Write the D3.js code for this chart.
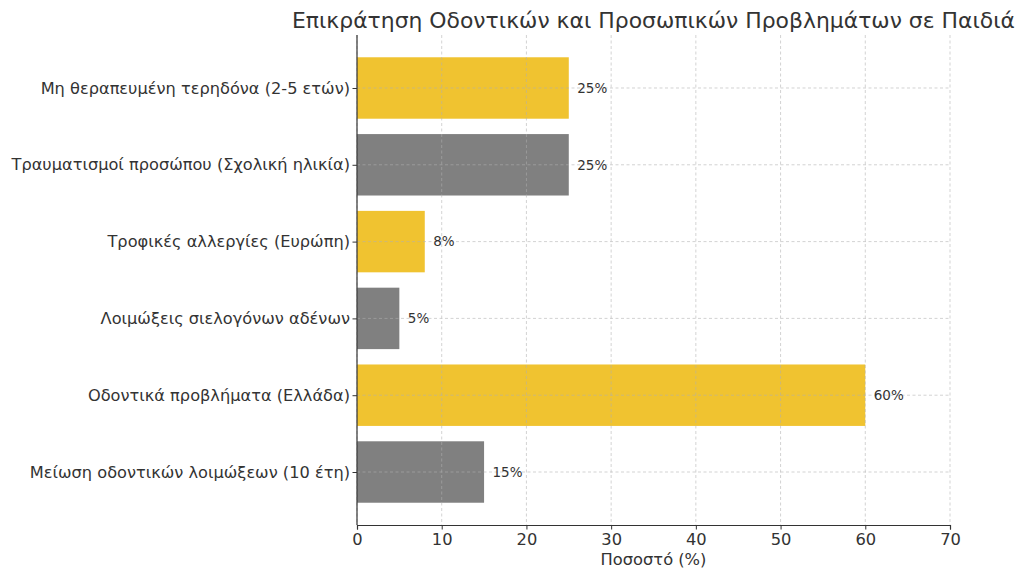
<!DOCTYPE html>
<html>
<head>
<meta charset="utf-8">
<script src="https://cdn.jsdelivr.net/npm/d3@7"></script>
<style>
  body { margin: 0; background: #fff; }
  text { font-family: "DejaVu Sans", sans-serif; fill: #333; }
</style>
</head>
<body>
<div id="chart"></div>
<script>
// bottom to top, as drawn
const categories = [
  "Μείωση οδοντικών λοιμώξεων (10 έτη)",
  "Οδοντικά προβλήματα (Ελλάδα)",
  "Λοιμώξεις σιελογόνων αδένων",
  "Τροφικές αλλεργίες (Ευρώπη)",
  "Τραυματισμοί προσώπου (Σχολική ηλικία)",
  "Μη θεραπευμένη τερηδόνα (2-5 ετών)"
];
const values = [15, 60, 5, 8, 25, 25];
const barColors = ["#808080", "#f0c330", "#808080", "#f0c330", "#808080", "#f0c330"];
const xTicks = [0, 10, 20, 30, 40, 50, 60, 70];

const width = 1024, height = 578;
const margin = {top: 35, right: 74, bottom: 53, left: 357};

const svg = d3.select('#chart').append('svg')
  .attr('width', width)
  .attr('height', height);

const x = d3.scaleLinear()
  .domain([0, 70])
  .range([margin.left, width - margin.right]);

// matplotlib-style bar layout: index space with 0.8 bar height and 5% margins
const y = d3.scaleLinear()
  .domain([-0.69, categories.length - 1 + 0.69])
  .range([height - margin.bottom, margin.top]);
const unit = Math.abs(y(1) - y(0));

// bars
svg.append('g')
  .selectAll('rect')
  .data(values)
  .enter()
  .append('rect')
  .attr('x', x(0))
  .attr('y', (d, i) => y(i) - unit * 0.4)
  .attr('width', d => x(d) - x(0))
  .attr('height', unit * 0.8)
  .attr('fill', (d, i) => barColors[i]);

// grid on top of bars
const grid = svg.append('g')
  .attr('stroke', '#b0b0b0')
  .attr('stroke-opacity', 0.7)
  .attr('stroke-width', 0.8)
  .attr('stroke-dasharray', '3,2.5');

grid.selectAll('line.v')
  .data(xTicks)
  .enter()
  .append('line')
  .attr('class', 'v')
  .attr('x1', d => x(d)).attr('x2', d => x(d))
  .attr('y1', margin.top).attr('y2', height - margin.bottom);

grid.selectAll('line.h')
  .data(categories.map((c, i) => i))
  .enter()
  .append('line')
  .attr('class', 'h')
  .attr('x1', margin.left).attr('x2', width - margin.right)
  .attr('y1', d => y(d)).attr('y2', d => y(d));

// x axis
const xAxis = svg.append('g')
  .attr('transform', 'translate(0,' + (height - margin.bottom) + ')')
  .call(d3.axisBottom(x).tickValues(xTicks).tickSize(4.5).tickPadding(4));
xAxis.select('.domain').attr('stroke', '#333').attr('stroke-width', 1.2);
xAxis.selectAll('.tick line').attr('stroke', '#333');
xAxis.selectAll('text')
  .attr('font-size', 16.3)
  .attr('font-family', '"DejaVu Sans", sans-serif')
  .attr('fill', '#333');

// y axis
const yAxis = svg.append('g')
  .attr('transform', 'translate(' + margin.left + ',0)')
  .call(d3.axisLeft(y)
    .tickValues(categories.map((c, i) => i))
    .tickFormat(i => categories[i])
    .tickSize(4.5).tickPadding(2.5));
yAxis.select('.domain').attr('d', 'M0,' + margin.top + 'V' + (height - margin.bottom))
  .attr('stroke', '#333').attr('stroke-width', 1.2);
yAxis.selectAll('.tick line').attr('stroke', '#333');
yAxis.selectAll('text')
  .attr('font-size', 16.2)
  .attr('font-family', '"DejaVu Sans", sans-serif')
  .attr('fill', '#333');

// value labels
svg.append('g')
  .selectAll('text')
  .data(values)
  .enter()
  .append('text')
  .attr('x', d => x(d + 1))
  .attr('y', (d, i) => y(i))
  .attr('dy', '0.35em')
  .attr('font-size', 13.5)
  .text(d => d + '%');

// axis label
svg.append('text')
  .attr('x', (margin.left + width - margin.right) / 2)
  .attr('y', 565)
  .attr('text-anchor', 'middle')
  .attr('font-size', 16.3)
  .text('Ποσοστό (%)');

// title
svg.append('text')
  .attr('x', (margin.left + width - margin.right) / 2)
  .attr('y', 28)
  .attr('text-anchor', 'middle')
  .attr('font-size', 21.9)
  .text('Επικράτηση Οδοντικών και Προσωπικών Προβλημάτων σε Παιδιά');
</script>
</body>
</html>
